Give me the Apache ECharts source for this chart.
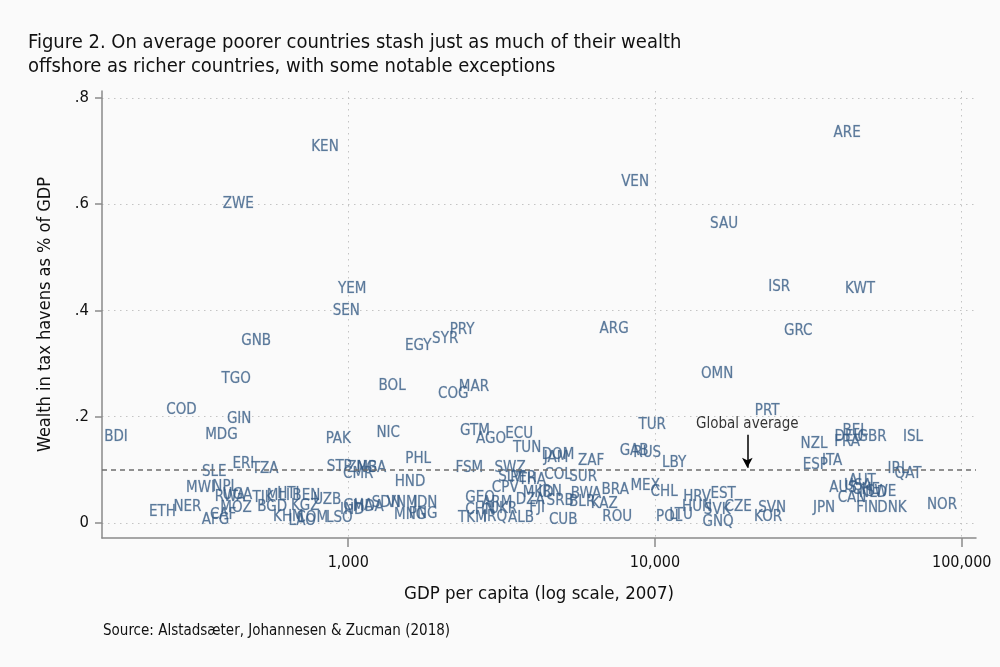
<!DOCTYPE html>
<html><head><meta charset="utf-8">
<script src="https://cdn.jsdelivr.net/npm/echarts@6/dist/echarts.min.js"></script>
<style>html,body{margin:0;padding:0;background:#fafafa}#c{width:1000px;height:667px}</style>
</head><body><div id="c"></div>
<script>
// ---- data ----
const codes = ['ARE','KEN','VEN','ZWE','SAU','YEM','ISR','KWT','SEN','PRY','ARG','GRC','GNB','SYR','EGY','TGO','OMN','BOL','MAR','COG',
 'COD','PRT','GIN','TUR','BDI','MDG','PAK','NIC','GTM','AGO','ECU','TUN','DOM','JAM','ZAF','GAB','RUS','LBY','NZL','BEL',
 'DEU','GBR','FRA','ISL','ITA','ESP','IRL','QAT','SLE','ERI','TZA','STP','ZMB','NGA','CMR','PHL','HND','FSM','SWZ','COL',
 'SUR','SLV','PER','THA','CPV','IRN','MKD','DZA','SRB','BLR','BWA','KAZ','BRA','FJI','CUB','ALB','GEO','ARM','CHN','TKM',
 'IRQ','UKR','ROU','MEX','CHL','POL','LTU','HRV','EST','HUN','SVK','CZE','GNQ','SVN','KOR','JPN','AUS','AUT','USA','CHE',
 'NLD','SWE','CAN','FIN','DNK','NOR','MWI','NPL','RWA','UGA','TJK','MLI','HTI','BEN','NER','ETH','AFG','MOZ','CAF','BGD',
 'KGZ','KHM','UZB','LAO','COM','LSO','IND','GHA','MDA','SDN','VNM','IDN','MNG','PNG'];
const gdpPerCapita = [42300,840,8610,438,16800,1030,25400,46600,985,2350,7360,29300,501,2070,1690,431,15950,1390,2570,2200,
 286,23200,441,9790,175,386,928,1350,2590,2920,3610,3830,4830,4760,6190,8550,9430,11540,33000,44900,
 42900,51000,42300,69400,37800,33300,62000,66800,366,455,536,935,1111,1189,1078,1690,1590,2480,3370,4830,
 5830,3370,3720,3980,3250,4550,4160,3920,4910,5790,5960,6830,7420,4130,5020,3660,2690,3060,2690,2540,
 3010,3200,7530,9290,10710,11120,12170,13720,16680,13720,15950,18660,16060,24090,23380,35590,41040,47330,45920,48760,
 51390,54570,43900,49130,59260,86270,330,397,412,435,528,592,638,730,299,248,369,431,391,565,
 724,638,854,708,763,935,1030,1078,1162,1330,1500,1782,1592,1755];
const offshoreShare = [0.734,0.708,0.642,0.600,0.563,0.440,0.444,0.440,0.399,0.363,0.365,0.361,0.343,0.346,0.333,0.271,0.280,0.258,0.256,0.243,
 0.213,0.211,0.196,0.184,0.162,0.166,0.158,0.169,0.173,0.158,0.168,0.141,0.128,0.122,0.117,0.135,0.132,0.113,0.149,0.173,
 0.162,0.162,0.152,0.162,0.117,0.109,0.102,0.092,0.096,0.111,0.102,0.105,0.103,0.103,0.092,0.120,0.077,0.103,0.103,0.090,
 0.087,0.087,0.085,0.081,0.066,0.058,0.056,0.043,0.041,0.040,0.055,0.036,0.062,0.028,0.006,0.009,0.047,0.038,0.024,0.009,
 0.011,0.026,0.011,0.070,0.058,0.011,0.015,0.049,0.055,0.030,0.024,0.030,0.002,0.028,0.011,0.028,0.066,0.079,0.070,0.062,
 0.056,0.058,0.047,0.028,0.028,0.034,0.066,0.068,0.049,0.053,0.047,0.051,0.055,0.051,0.030,0.021,0.006,0.028,0.015,0.030,
 0.032,0.011,0.043,0.004,0.009,0.009,0.024,0.032,0.030,0.038,0.038,0.038,0.015,0.017];
const xTicks = [1000, 10000, 100000];
const yTicks = [0, 0.2, 0.4, 0.6, 0.8];
const globalAverage = 0.1;
const annotationGdp = 20000;
const annotationTextY = 0.186;
const arrowFromY = 0.166;
const arrowToY = 0.104;

// ---- chart ----
const FF = "'DejaVu Sans Condensed','Liberation Sans Narrow',sans-serif";
const points = codes.map((c, i) => ({ name: c, value: [gdpPerCapita[i], offshoreShare[i]] }));
const chart = echarts.init(document.getElementById('c'), null, { renderer: 'canvas' });
chart.setOption({
  backgroundColor: '#fafafa',
  animation: false,
  title: [
    { text: 'Figure 2. On average poorer countries stash just as much of their wealth\noffshore as richer countries, with some notable exceptions',
      left: 28, top: 31, padding: 0, textStyle: { fontFamily: FF, fontSize: 20, fontWeight: 'normal', color: '#111', lineHeight: 24 } },
    { text: 'Source: Alstadsæter, Johannesen & Zucman (2018)', left: 103, top: 624, padding: 0,
      textStyle: { fontFamily: FF, fontSize: 15, fontWeight: 'normal', color: '#111' } }
  ],
  grid: { left: 102, right: 24, top: 91, bottom: 129 },
  xAxis: {
    type: 'log', logBase: 10, min: 157.5, max: 111300,
    name: 'GDP per capita (log scale, 2007)', nameLocation: 'middle', nameGap: 47,
    nameTextStyle: { fontFamily: FF, fontSize: 18.5, color: '#111' },
    axisLine: { onZero: false, lineStyle: { color: '#8a8a8a', width: 1.5 } },
    axisTick: { customValues: xTicks, length: 9, lineStyle: { color: '#8a8a8a', width: 1.5 } },
    axisLabel: { customValues: xTicks, formatter: v => Number(v).toLocaleString('en-US'), fontFamily: FF, fontSize: 16, color: '#111', margin: 17 },
    splitLine: { show: true, lineStyle: { color: '#c4c4c4', width: 1, type: [1.5, 4.5] } }
  },
  yAxis: {
    type: 'value', min: -0.0282, max: 0.813,
    name: 'Wealth in tax havens as % of GDP', nameLocation: 'middle', nameGap: 48,
    nameTextStyle: { fontFamily: FF, fontSize: 18, color: '#111' },
    axisLine: { show: true, onZero: false, lineStyle: { color: '#8a8a8a', width: 1.5 } },
    axisTick: { show: true, customValues: yTicks, length: 7, lineStyle: { color: '#8a8a8a', width: 1.5 } },
    axisLabel: { customValues: yTicks, formatter: v => (v === 0 ? '0' : String(+v.toFixed(1)).replace(/^0\./, '.')), fontFamily: FF, fontSize: 16.5, color: '#111', margin: 13 },
    splitLine: { show: true, lineStyle: { color: '#c4c4c4', width: 1, type: [1.5, 4.5] } }
  },
  series: [
    {
      type: 'scatter', data: points, symbol: 'circle', symbolSize: 1,
      itemStyle: { color: 'rgba(0,0,0,0)' },
      label: { show: true, position: 'inside', formatter: p => p.name, fontFamily: FF, fontSize: 15, color: '#365b84', textBorderColor: 'rgba(54,91,132,0.35)', textBorderWidth: 0.6 },
      markLine: {
        silent: true, symbol: ['none', 'none'], label: { show: false },
        lineStyle: { color: '#6e6e6e', width: 1.5, type: [5, 4] },
        data: [{ yAxis: globalAverage }]
      },
      z: 3
    },
    {
      type: 'scatter', symbolSize: 1, itemStyle: { color: 'rgba(0,0,0,0)' },
      data: [{ name: 'Global average', value: [annotationGdp, annotationTextY] }],
      label: { show: true, position: 'inside', formatter: p => p.name, fontFamily: FF, fontSize: 15, color: '#000' },
      markLine: {
        silent: true, symbol: ['none', 'arrow'], symbolSize: [8, 10], label: { show: false },
        lineStyle: { color: '#000', width: 1.5, type: 'solid' },
        data: [[{ coord: [annotationGdp, arrowFromY] }, { coord: [annotationGdp, arrowToY] }]]
      },
      z: 4
    }
  ]
});
</script></body></html>
